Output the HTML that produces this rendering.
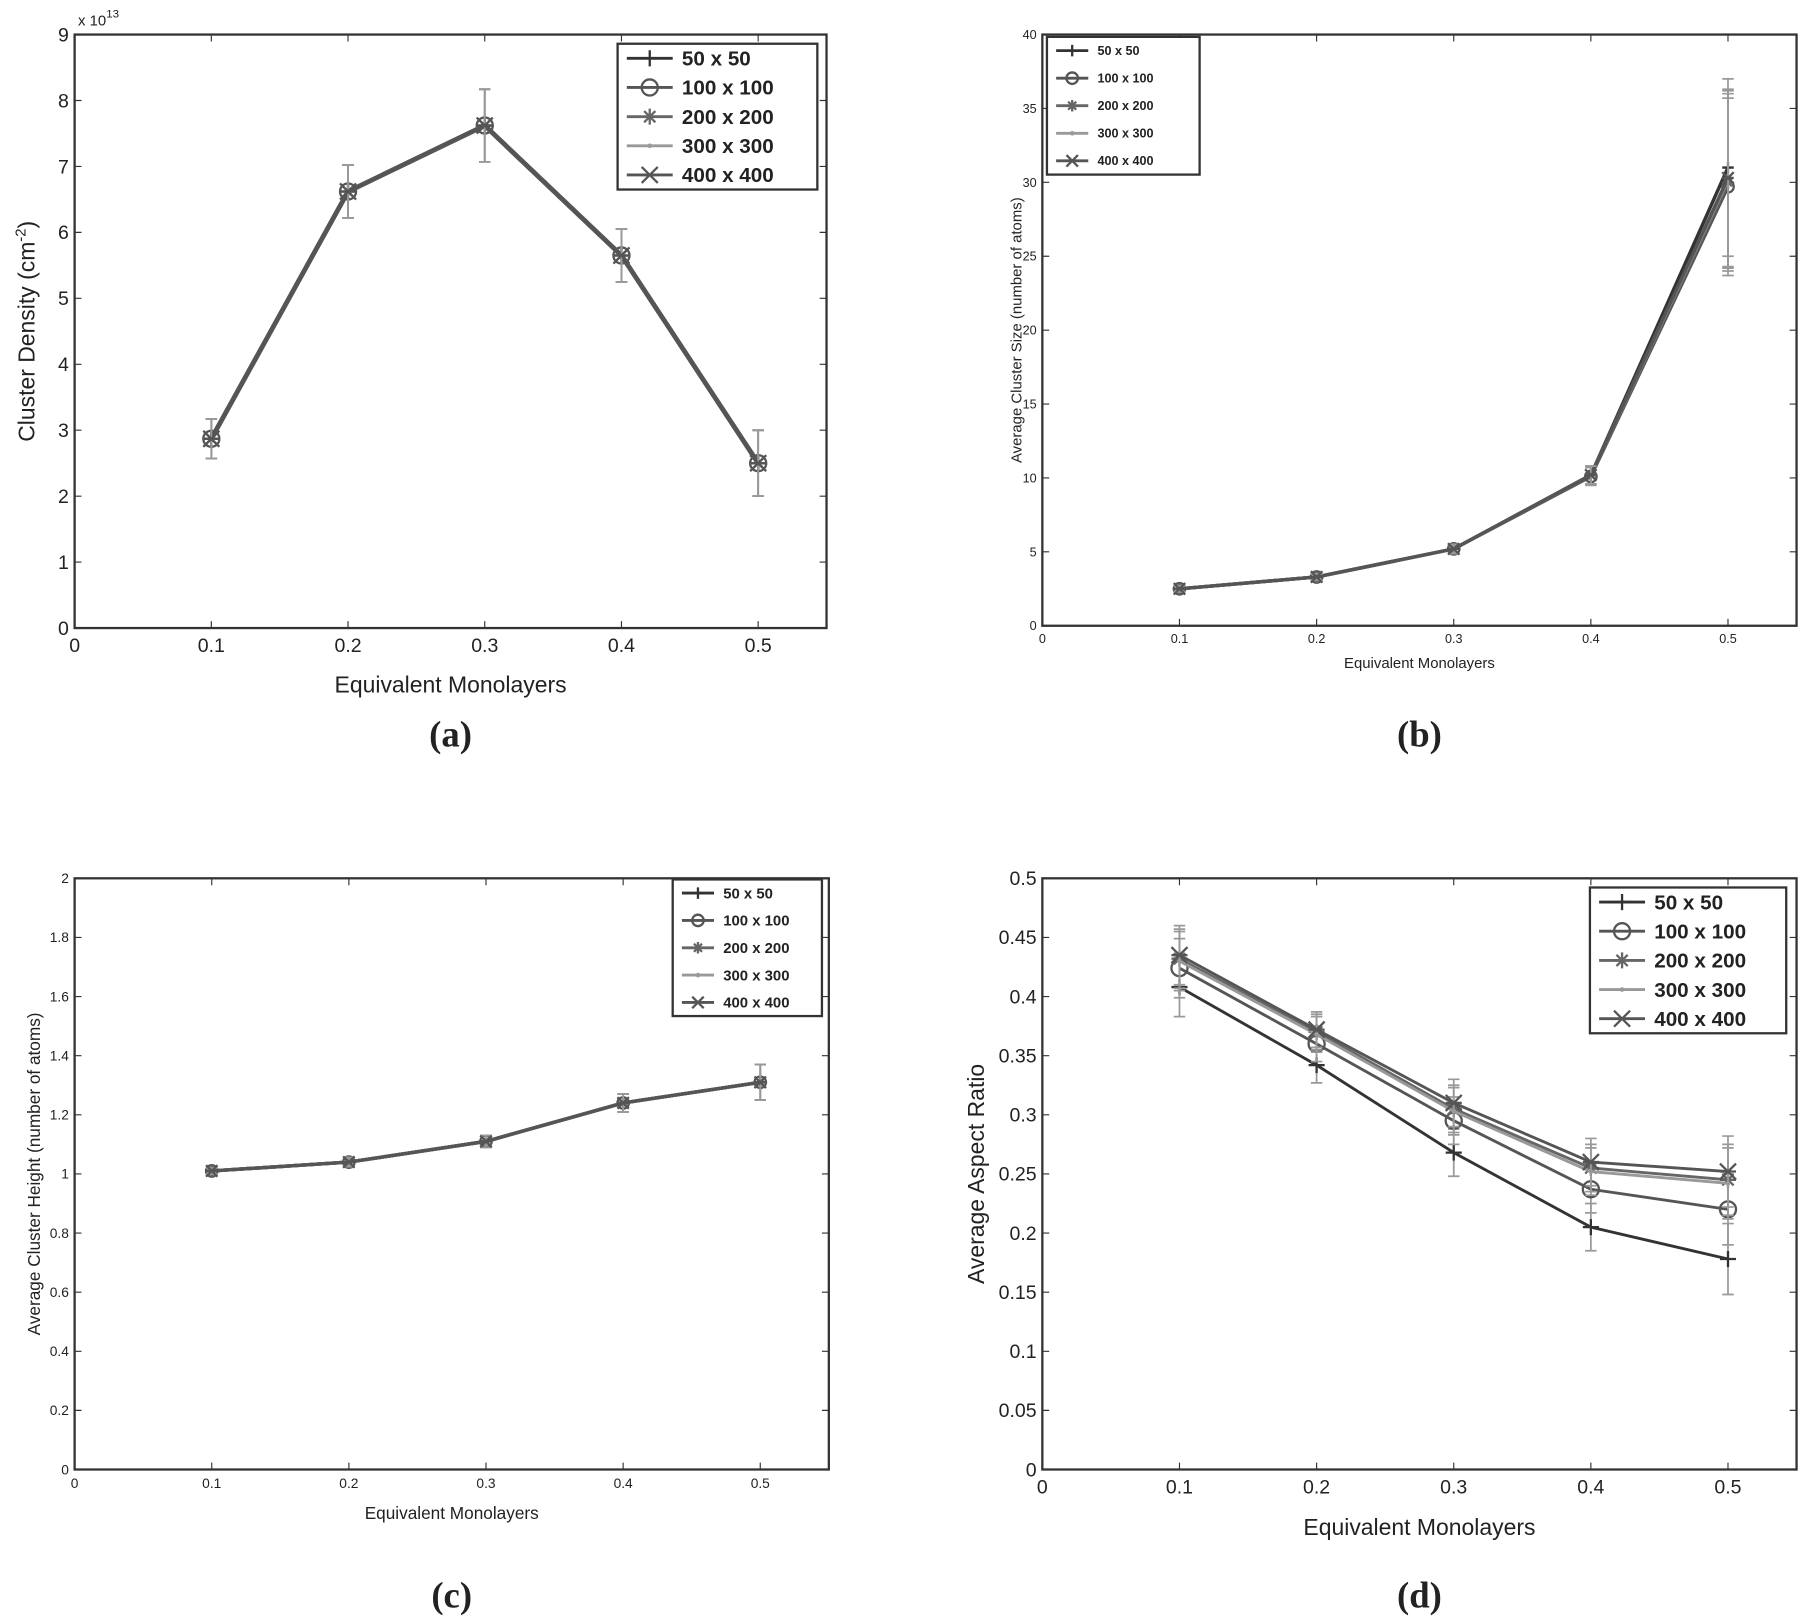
<!DOCTYPE html>
<html><head><meta charset="utf-8"><style>
html,body{margin:0;padding:0;background:#fff;}
svg{display:block;}
text{font-family:"Liberation Sans",sans-serif;fill:#222;}
</style></head><body>
<svg id="s" width="1800" height="1620" viewBox="0 0 1568 1411" xmlns="http://www.w3.org/2000/svg"></svg>
<script>
const s=document.getElementById('s');let h='';
function T(x,y,t,sz,anc,extra){h+=`<text x="${x}" y="${y}" font-size="${sz}" text-anchor="${anc||'middle'}" ${extra||''}>${t}</text>`;}
function marker(m,x,y,c,r){
 r=r||7;
 if(m=='+')h+=`<path d="M${x-r} ${y}H${x+r}M${x} ${y-r}V${y+r}" stroke="${c}" stroke-width="2"/>`;
 if(m=='o')h+=`<circle cx="${x}" cy="${y}" r="${r}" fill="none" stroke="${c}" stroke-width="2"/>`;
 if(m=='*')h+=`<path d="M${x-r} ${y}H${x+r}M${x} ${y-r}V${y+r}M${x-r*.7} ${y-r*.7}L${x+r*.7} ${y+r*.7}M${x-r*.7} ${y+r*.7}L${x+r*.7} ${y-r*.7}" stroke="${c}" stroke-width="2"/>`;
 if(m=='.')h+=`<circle cx="${x}" cy="${y}" r="2" fill="${c}"/>`;
 if(m=='x')h+=`<path d="M${x-r} ${y-r}L${x+r} ${y+r}M${x-r} ${y+r}L${x+r} ${y-r}M${x-r} ${y}H${x+r}" stroke="${c}" stroke-width="2"/>`;
}
const labels=['50 x 50','100 x 100','200 x 200','300 x 300','400 x 400'];
const marks=['+','o','*','.','x'];
const cols=['#333','#555','#666','#999','#555'];
function panel(o){
 const {x0,x1,y0,y1,ymax,ystep,ydec,series,err,tick,fs,lg,ylab,xlabY,ylabX,cap,capY}=o;
 const X=v=>x0+v/0.55*(x1-x0), Y=v=>y1-v/ymax*(y1-y0);
 h+=`<rect x="${x0}" y="${y0}" width="${x1-x0}" height="${y1-y0}" fill="none" stroke="#333" stroke-width="2"/>`;
 for(let i=0;i<=5;i++){const v=i/10,xx=X(v);h+=`<path d="M${xx} ${y1}v-6M${xx} ${y0}v6" stroke="#333"/>`;T(xx,y1+tick+4,i?v.toFixed(1):'0',tick);}
 for(let v=0;v<=ymax+1e-9;v+=ystep){const yy=Y(v);h+=`<path d="M${x0} ${yy}h6M${x1} ${yy}h-6" stroke="#333"/>`;T(x0-5,yy+tick*0.35,+v.toFixed(ydec)+'',tick,'end');}
 series.forEach((d,k)=>{
  const pts=d.map((v,i)=>[X((i+1)/10),Y(v)]);
  h+=`<polyline points="${pts.map(p=>p.join(',')).join(' ')}" fill="none" stroke="${cols[k]}" stroke-width="${o.lw||3}"/>`;
  pts.forEach((p,i)=>{const e=err[i]/ymax*(y1-y0);h+=`<path d="M${p[0]} ${p[1]-e}V${p[1]+e}M${p[0]-5} ${p[1]-e}h10M${p[0]-5} ${p[1]+e}h10" stroke="#999" stroke-width="1.5"/>`;marker(marks[k],p[0],p[1],cols[k],o.mr);});
 });
 h+=`<rect x="${lg.x}" y="${lg.y}" width="${lg.w}" height="${lg.h}" fill="#fff" stroke="#333" stroke-width="2"/>`;
 const dy=lg.h/5;
 labels.forEach((l,k)=>{const yy=lg.y+dy*(k+0.5);h+=`<path d="M${lg.x+8} ${yy}h${lg.ll}" stroke="${cols[k]}" stroke-width="2.5"/>`;marker(marks[k],lg.x+8+lg.ll/2,yy,cols[k],o.mr);T(lg.x+lg.ll+16,yy+lg.fs*0.35,l,lg.fs,'start','font-weight="bold"');});
 T((x0+x1)/2,xlabY,'Equivalent Monolayers',fs,'middle');
 h+=`<text x="${ylabX}" y="${(y0+y1)/2}" font-size="${fs}" text-anchor="middle" transform="rotate(-90 ${ylabX} ${(y0+y1)/2})">${ylab}</text>`;
 h+=`<text x="${(x0+x1)/2}" y="${capY}" font-size="32" font-weight="bold" text-anchor="middle" style="font-family:'Liberation Serif',serif">${cap}</text>`;
}
const flat=(a)=>[a,a,a,a,a];
panel({x0:65,x1:720,y0:30,y1:547,ymax:9,ystep:1,ydec:0,tick:17,fs:20,lw:4,
 series:flat([2.87,6.62,7.62,5.65,2.5]),err:[0.3,0.4,0.55,0.4,0.5],
 lg:{x:538,y:38,w:174,h:127,ll:40,fs:18},ylab:'Cluster Density (cm<tspan dy="-8" font-size="13">-2</tspan><tspan dy="8">)</tspan>',xlabY:603,ylabX:30,cap:'(a)',capY:650});
T(68,22,'x 10<tspan dy="-7" font-size="10">13</tspan>',13,'start');
panel({x0:908,x1:1565,y0:30,y1:545,ymax:40,ystep:5,ydec:0,tick:11,fs:13,lw:3,mr:5,
 series:[[2.5,3.3,5.2,10.2,31],[2.5,3.3,5.2,10.1,29.7],[2.5,3.3,5.2,10.2,30],[2.5,3.3,5.2,10.2,30.2],[2.5,3.3,5.2,10.2,30.3]],err:[0.2,0.2,0.3,0.6,6],
 lg:{x:912,y:32,w:133,h:120,ll:28,fs:11},ylab:'Average Cluster Size (number of atoms)',xlabY:582,ylabX:890,cap:'(b)',capY:650});
panel({x0:65,x1:722,y0:765,y1:1280,ymax:2,ystep:0.2,ydec:1,tick:12,fs:15,lw:3,mr:5,
 series:flat([1.01,1.04,1.11,1.24,1.31]),err:[0.01,0.015,0.02,0.03,0.06],
 lg:{x:586,y:766,w:130,h:119,ll:28,fs:13},ylab:'Average Cluster Height (number of atoms)',xlabY:1323,ylabX:35,cap:'(c)',capY:1400});
panel({x0:908,x1:1565,y0:765,y1:1280,ymax:0.5,ystep:0.05,ydec:2,tick:17,fs:20,lw:2.5,
 series:[[.408,.342,.268,.205,.178],[.424,.36,.295,.237,.22],[.432,.37,.305,.255,.245],[.43,.368,.303,.252,.242],[.435,.372,.31,.26,.252]],err:[0.025,0.015,0.02,0.02,0.03],
 lg:{x:1385,y:773,w:171,h:127,ll:40,fs:18},ylab:'Average Aspect Ratio',xlabY:1337,ylabX:857,cap:'(d)',capY:1400});
s.innerHTML=h;
</script>
</body></html>
